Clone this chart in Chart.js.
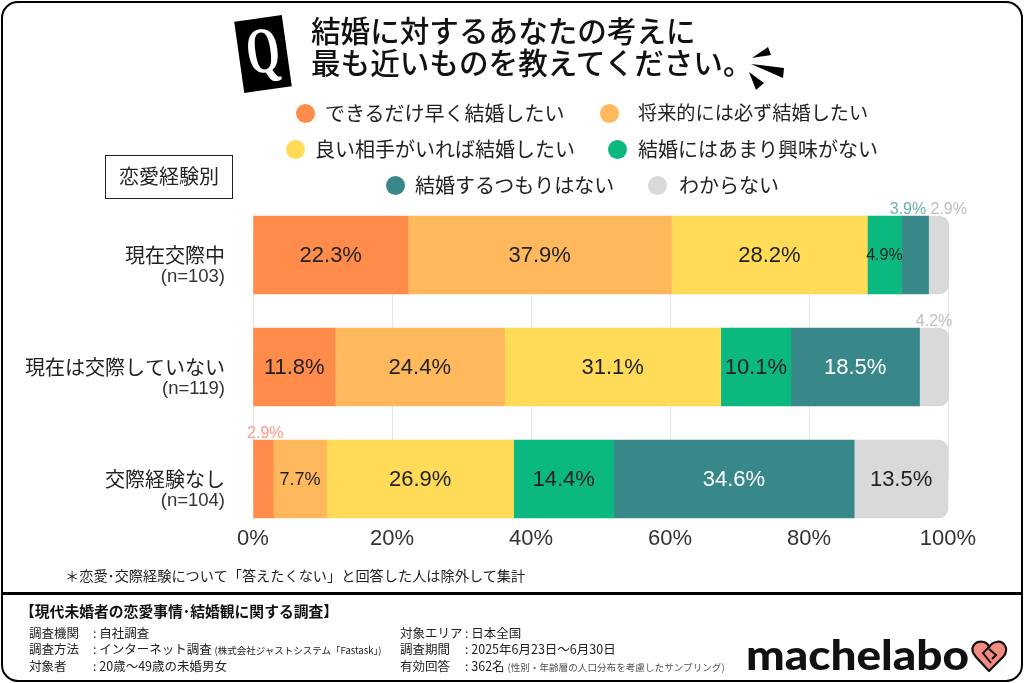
<!DOCTYPE html>
<html lang="ja">
<head>
<meta charset="utf-8">
<title>結婚に対するあなたの考え</title>
<script src="https://cdn.jsdelivr.net/npm/chart.js@4"></script>
<style>
html, body { margin: 0; padding: 0; background: #fff; }
body { width: 1024px; height: 683px; position: relative; overflow: hidden; font-family: "Noto Sans CJK JP", sans-serif; color: #222; }
canvas { position: absolute; left: 0; top: 0; }
.t { position: absolute; white-space: nowrap; line-height: 1; }
.frame { position: absolute; left: 1px; top: 1px; width: 1018px; height: 677px; border: 2.5px solid #000; border-radius: 17px; }
.rule { position: absolute; left: 1px; top: 592px; width: 1022px; height: 2.5px; background: #000; }
.box { position: absolute; left: 105px; top: 155px; width: 126px; height: 42px; border: 1.5px solid #222; text-align: center; line-height: 40px; font-size: 20px; }
.q { position: absolute; left: 239px; top: 18px; width: 48px; height: 72px; background: #000; transform: rotate(-8deg); color: #fff; font: bold 50px "Liberation Serif", serif; text-align: center; line-height: 64px; }
.dot { position: absolute; width: 19px; height: 19px; border-radius: 50%; }
svg { position: absolute; left: 0; top: 0; }
</style>
</head>
<body>
<canvas id="chart" width="1024" height="683"></canvas>
<div class="frame"></div>
<div class="rule"></div>
<div class="q"><span style="display:inline-block;transform:scale(0.85,1.3)">Q</span></div>
<div class="t" style="left:311px;top:15px;font-size:29.6px;font-weight:500;color:#111">結婚に対するあなたの考えに</div>
<div class="t" style="left:311px;top:47px;font-size:29.6px;font-weight:500;color:#111">最も近いものを教えてください。</div>
<svg width="1024" height="683">
  <polygon points="752,58 768,47 771,55" fill="#000"/>
  <polygon points="751,64 784,68 783,78" fill="#000"/>
  <polygon points="749,72 764,83 756,90" fill="#000"/>
  <path d="M989 671 L976 657 C968 648 975 640 984 642 C986 642.500 988 644 989 647 C991 644 993 642.500 996 642 C1004 640 1010 649 1003 657 Z" fill="#F28B82" stroke="#111" stroke-width="2.2" stroke-linejoin="round"/>
  <path d="M990 646 L983 653 L991 663" fill="none" stroke="#111" stroke-width="2"/>
  <path d="M989 649 L996 655 L992 659" fill="none" stroke="#111" stroke-width="2"/>
</svg>
<div id="legend"></div>
<div class="box">恋愛経験別</div>
<div class="t" style="left:65px;top:568px;font-size:14.2px">＊恋愛･交際経験について「答えたくない」と回答した人は除外して集計</div>
<div class="t" style="left:20px;top:604px;font-size:14.8px;font-weight:700;color:#111">【現代未婚者の恋愛事情･結婚観に関する調査】</div>
<div class="t" style="left:29px;top:627px;font-size:12.5px">調査機関</div>
<div class="t" style="left:93px;top:627px;font-size:12.5px">: 自社調査</div>
<div class="t" style="left:29px;top:643px;font-size:12.5px">調査方法</div>
<div class="t" style="left:93px;top:643px;font-size:12.5px">: インターネット調査 <span style="font-size:9.5px">(株式会社ジャストシステム「Fastask」)</span></div>
<div class="t" style="left:29px;top:660px;font-size:12.5px">対象者</div>
<div class="t" style="left:93px;top:660px;font-size:12.5px">: 20歳～49歳の未婚男女</div>
<div class="t" style="left:400px;top:627px;font-size:12.5px">対象エリア</div>
<div class="t" style="left:465px;top:627px;font-size:12.5px">: 日本全国</div>
<div class="t" style="left:400px;top:643px;font-size:12.5px">調査期間</div>
<div class="t" style="left:465px;top:643px;font-size:12.5px">: 2025年6月23日～6月30日</div>
<div class="t" style="left:400px;top:660px;font-size:12.5px">有効回答</div>
<div class="t" style="left:465px;top:660px;font-size:12.5px">: 362名 <span style="font-size:9.6px;color:#555">(性別・年齢層の人口分布を考慮したサンプリング)</span></div>
<div class="t" style="left:746px;top:630px;font:900 41px Lato, sans-serif;color:#111;transform:scaleX(1.12);transform-origin:left center">machelabo</div>
<script>
const categories = ['現在交際中', '現在は交際していない', '交際経験なし']
const sampleSizes = ['(n=103)', '(n=119)', '(n=104)']
const seriesNames = ['できるだけ早く結婚したい', '将来的には必ず結婚したい', '良い相手がいれば結婚したい', '結婚にはあまり興味がない', '結婚するつもりはない', 'わからない']
const seriesColors = ['#FF8C4B', '#FFB85C', '#FFDB58', '#0BB880', '#38888A', '#D9D9D9']
const soonest = [22.3, 11.8, 2.9]
const someday = [37.9, 24.4, 7.7]
const ifPartner = [28.2, 31.1, 26.9]
const notMuch = [4.9, 10.1, 14.4]
const noPlan = [3.9, 18.5, 34.6]
const unsure = [2.9, 4.2, 13.5]
const seriesValues = [soonest, someday, ifPartner, notMuch, noPlan, unsure]
const xTicks = [0, 20, 40, 60, 80, 100]

// legend, laid out by hand in three centred rows
const legendPos = [[296, 104, 325, 20], [600, 104, 638, 19.2], [286, 140, 315, 20], [608, 140, 638, 20], [386, 176, 415, 20], [648, 176, 679, 20]]
const legendEl = document.getElementById('legend')
seriesNames.forEach((name, i) => {
    const p = legendPos[i]
    legendEl.innerHTML += `<div class="dot" style="left:${p[0]}px;top:${p[1]}px;background:${seriesColors[i]}"></div>`
        + `<div class="t" style="left:${p[2]}px;top:${p[1] - 1}px;font-size:${p[3]}px">${name}</div>`
})

const labelFont = (size) => `${size}px "Liberation Sans", sans-serif`

// nudges for the small labels that sit above the bars
const outsideShift = { '4,0': -7, '5,0': 10, '0,2': 2 }

const segmentLabels = {
    id: 'segmentLabels',
    afterDatasetsDraw(chart) {
        const ctx = chart.ctx
        ctx.save()
        ctx.textAlign = 'center'
        ctx.textBaseline = 'middle'
        seriesValues.forEach((values, s) => {
            const meta = chart.getDatasetMeta(s)
            values.forEach((v, c) => {
                const bar = meta.data[c]
                const cx = (bar.x + bar.base) / 2
                if (v < 4.5) {
                    ctx.font = labelFont(16)
                    ctx.fillStyle = s === 0 ? '#FF9A8A' : s === 4 ? '#6FAFB0' : '#BDBDBD'
                    ctx.fillText(v.toFixed(1) + '%', cx + (outsideShift[s + ',' + c] || 0), bar.y - 45)
                } else {
                    ctx.font = labelFont(v < 5 ? 16 : v < 8 ? 18 : 22)
                    ctx.fillStyle = s === 4 ? '#fff' : '#222'
                    ctx.fillText(v.toFixed(1) + '%', cx, bar.y + 1)
                }
            })
        })
        // category names on the left, with the sample size under each
        const yScale = chart.scales.y
        ctx.textAlign = 'right'
        categories.forEach((name, i) => {
            const y = yScale.getPixelForTick(i)
            ctx.fillStyle = '#222'
            ctx.font = '20px "Noto Sans CJK JP", sans-serif'
            ctx.fillText(name, 225, y)
            ctx.font = '18.5px "Liberation Sans", sans-serif'
            ctx.fillStyle = '#333'
            ctx.fillText(sampleSizes[i], 225, y + 22)
        })
        ctx.restore()
    }
}

new Chart(document.getElementById('chart'), {
    type: 'bar',
    plugins: [segmentLabels],
    data: {
        labels: categories,
        datasets: seriesNames.map((name, i) => ({
            label: name,
            data: seriesValues[i],
            backgroundColor: seriesColors[i],
            barThickness: 78,
            clip: false,
            borderSkipped: false,
            borderRadius: i === 5 ? { topRight: 10, bottomRight: 10 } : 0
        }))
    },
    options: {
        indexAxis: 'y',
        responsive: false,
        animation: false,
        layout: { padding: { left: 253, right: 76, top: 255, bottom: 134 } },
        plugins: { legend: { display: false }, tooltip: { enabled: false } },
        scales: {
            x: {
                stacked: true,
                min: 0,
                max: 100,
                afterFit: (s) => { s.height = 70 },
                afterBuildTicks: (s) => { s.ticks = xTicks.map((v) => ({ value: v })) },
                border: { display: false },
                grid: { color: '#E6E6E6', drawTicks: false },
                ticks: {
                    padding: 47,
                    maxRotation: 0,
                    color: '#333',
                    font: { family: '"Liberation Sans", sans-serif', size: 22 },
                    callback: (v) => v + '%'
                }
            },
            y: {
                stacked: true,
                offset: false,
                afterFit: (s) => { s.width = 0 },
                border: { display: false },
                grid: { display: false },
                ticks: { display: false }
            }
        }
    }
})
</script>
</body>
</html>
